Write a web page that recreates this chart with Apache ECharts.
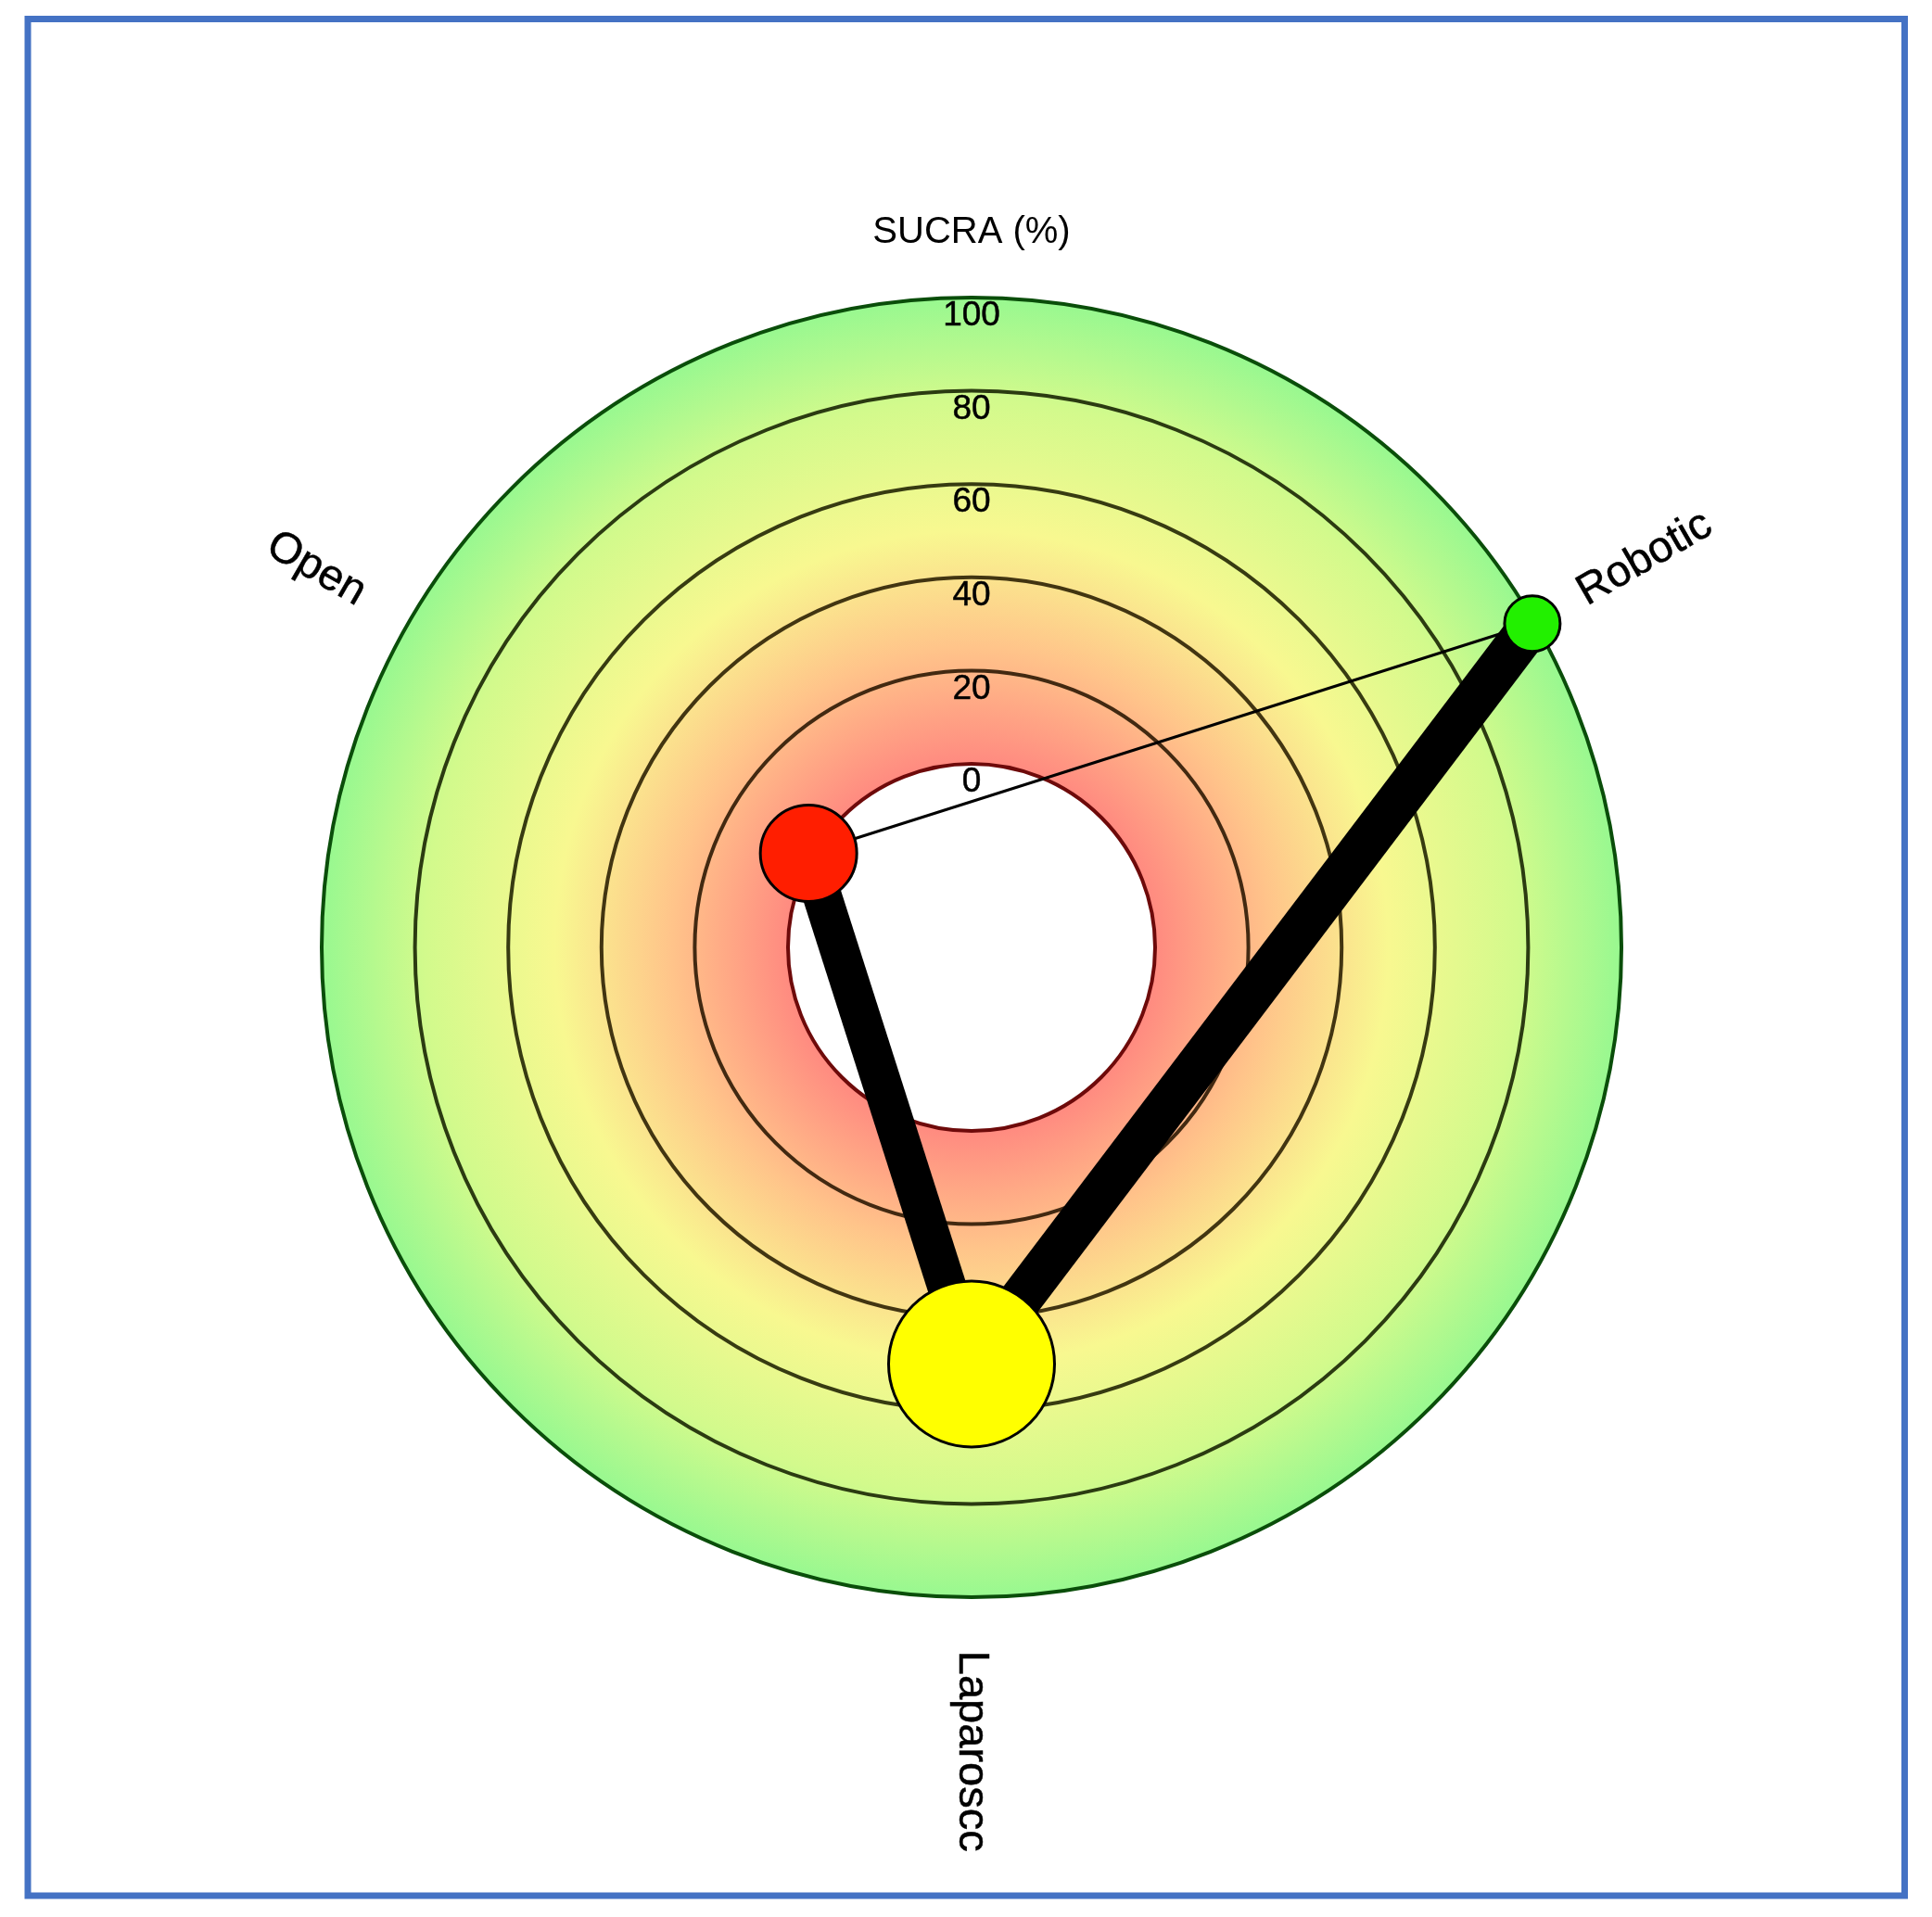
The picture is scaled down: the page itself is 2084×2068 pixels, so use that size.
<!DOCTYPE html>
<html>
<head>
<meta charset="utf-8">
<script src="https://cdn.jsdelivr.net/npm/echarts@6/dist/echarts.min.js"></script>
<style>
  html, body { margin: 0; padding: 0; background: #ffffff; }
  #chart { width: 2084px; height: 2068px; }
</style>
</head>
<body>
<div id="chart"></div>
<script>
// ---------- data ----------
const treatments = ['Robotic', 'Laparoscc', 'Open'];
const treatmentAngle = [60, 180, 300];          // position on the circle (degrees clockwise from top)
const sucra = [99.5, 50, 1];                     // SUCRA (%)
const nodeWeight = [60, 179, 104];               // node size (sample size weight)
const nodeColor = ['#22f000', '#ffff00', '#ff1e00'];
const edgeFrom = [2, 1, 2];
const edgeTo = [1, 0, 0];
const edgeWeight = [42, 46, 3];                  // edge thickness (number of studies)
const tickValues = [0, 20, 40, 60, 80, 100];
const axisTitle = 'SUCRA (%)';
const LABEL_R = 111.5;

// ---------- chart ----------
const chart = echarts.init(document.getElementById('chart'), null, { renderer: 'canvas' });
const CX = 1048, CY = 1022, R0 = 198, R1 = 701;
const FONT = '"Liberation Sans", Arial, Helvetica, sans-serif';

const edgeData = edgeFrom.map((f, i) => [
  sucra[f], treatmentAngle[f], sucra[edgeTo[i]], treatmentAngle[edgeTo[i]], edgeWeight[i]
]);

const labelData = treatments.map((name, i) => {
  let rot = 90 - treatmentAngle[i];
  let align = 'left';
  if (rot < -90) { rot += 180; align = 'right'; }
  if (rot > 90) { rot -= 180; align = 'right'; }
  return {
    name: name,
    value: [LABEL_R, treatmentAngle[i]],
    label: { rotate: rot, align: align }
  };
});

const option = {
  backgroundColor: '#ffffff',
  animation: false,
  polar: { center: [CX, CY], radius: [R0, R1] },
  angleAxis: {
    type: 'value', min: 0, max: 360, startAngle: 90, clockwise: true,
    axisLine: { show: false }, axisTick: { show: false },
    axisLabel: { show: false }, splitLine: { show: false }
  },
  radiusAxis: {
    type: 'value', min: 0, max: 100, interval: 20,
    name: axisTitle, nameLocation: 'end', nameGap: 50,
    nameTextStyle: { fontFamily: FONT, fontSize: 40, color: '#000' },
    axisLine: { show: false }, axisTick: { show: false }, axisLabel: { show: false },
    splitLine: {
      show: true,
      lineStyle: {
        width: 4,
        color: ['#6e0a0a', 'rgba(40,20,0,0.88)', 'rgba(40,28,0,0.88)', 'rgba(30,32,0,0.88)', 'rgba(20,32,0,0.88)', '#0a4e0a']
      }
    }
  },
  graphic: [{
    type: 'rect',
    shape: { x: 30, y: 20.5, width: 2024.5, height: 2024.5 },
    style: { fill: 'none', stroke: '#4472c4', lineWidth: 7 },
    silent: true, z: 100
  }],
  series: [
    {
      type: 'pie',
      center: [CX, CY],
      radius: [R0, R1],
      silent: true,
      z: -1,
      label: { show: false }, labelLine: { show: false },
      data: [{
        value: 1,
        itemStyle: {
          color: {
            type: 'radial', x: 0.5, y: 0.5, r: 0.5,
            colorStops: [
              { offset: R0 / R1, color: '#ff8a80' },
              { offset: (R0 + 0.25 * (R1 - R0)) / R1, color: '#ffc48a' },
              { offset: (R0 + 0.5 * (R1 - R0)) / R1, color: '#f8f890' },
              { offset: (R0 + 0.78 * (R1 - R0)) / R1, color: '#d2fa8c' },
              { offset: 1, color: '#98f890' }
            ]
          }
        }
      }]
    },
    {
      type: 'custom',
      coordinateSystem: 'polar',
      silent: true,
      clip: false,
      z: 2,
      dimensions: ['r1', 'a1', 'r2', 'a2', 'w'],
      encode: { radius: 0, angle: 1 },
      renderItem: (params, api) => {
        const p1 = api.coord([api.value(0), api.value(1)]);
        const p2 = api.coord([api.value(2), api.value(3)]);
        return {
          type: 'line',
          shape: { x1: p1[0], y1: p1[1], x2: p2[0], y2: p2[1] },
          style: { stroke: '#000000', lineWidth: api.value(4), lineCap: 'butt' }
        };
      },
      data: edgeData
    },
    {
      type: 'scatter',
      coordinateSystem: 'polar',
      silent: true,
      clip: false,
      z: 3,
      symbol: 'circle',
      itemStyle: { borderColor: '#000', borderWidth: 3, opacity: 1 },
      data: treatments.map((n, i) => ({
        name: n,
        value: [sucra[i], treatmentAngle[i]],
        symbolSize: nodeWeight[i],
        itemStyle: { color: nodeColor[i] }
      }))
    },
    {
      type: 'scatter',
      coordinateSystem: 'polar',
      silent: true,
      clip: false,
      z: 4,
      symbolSize: 0,
      itemStyle: { color: '#000' },
      label: {
        show: true, position: [0, 0], align: 'center', verticalAlign: 'middle', offset: [0, 20],
        fontFamily: FONT, fontSize: 37, color: '#000000', opacity: 1,
        textBorderColor: '#000000', textBorderWidth: 0.5,
        formatter: p => String(p.value[0])
      },
      data: tickValues.map(v => [v, 0])
    },
    {
      type: 'scatter',
      coordinateSystem: 'polar',
      silent: true,
      clip: false,
      z: 4,
      symbolSize: 0,
      itemStyle: { color: '#000' },
      label: {
        show: true, position: [0, 0], verticalAlign: 'middle',
        fontFamily: FONT, fontSize: 47, color: '#000000', opacity: 1,
        textBorderColor: '#000000', textBorderWidth: 0.5,
        formatter: p => p.name
      },
      data: labelData
    }
  ]
};
chart.setOption(option);
</script>
</body>
</html>
